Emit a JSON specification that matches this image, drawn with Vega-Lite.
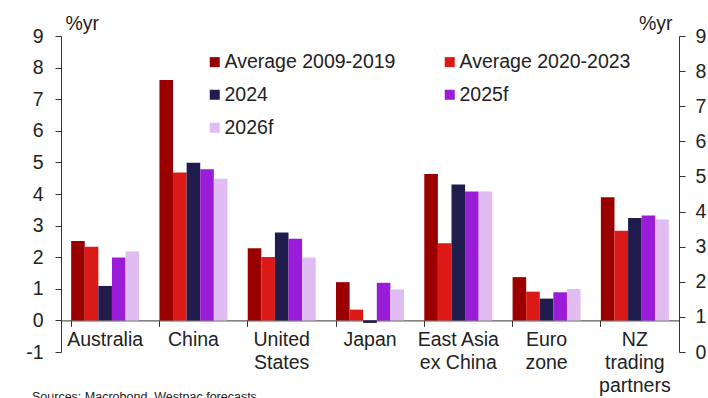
{
  "$schema": "https://vega.github.io/schema/vega-lite/v6.json",
  "width": 618,
  "height": 316,
  "autosize": {"type": "none"},
  "padding": {"left": 61, "top": 36, "right": 29, "bottom": 46},
  "background": "white",
  "config": {
    "font": "Liberation Sans",
    "view": {"stroke": null},
    "axis": {"labelFont": "Liberation Sans", "titleFont": "Liberation Sans", "labelColor": "#222222", "titleColor": "#222222", "domainColor": "#333333", "tickColor": "#333333", "grid": false, "labelFontSize": 19.5, "titleFontSize": 19.5, "titleFontWeight": "normal"},
    "legend": {"labelFont": "Liberation Sans", "labelColor": "#222222"}
  },
  "title": {
    "text": "Sources: Macrobond, Westpac forecasts",
    "orient": "bottom",
    "anchor": "start",
    "frame": "group",
    "fontSize": 12.5,
    "fontWeight": "normal",
    "color": "#222222",
    "dx": -29,
    "offset": -4
  },
  "data": {
    "values": [
      {"country": "Australia", "series": "Average 2009-2019", "value": 2.51},
      {"country": "Australia", "series": "Average 2020-2023", "value": 2.33},
      {"country": "Australia", "series": "2024", "value": 1.09},
      {"country": "Australia", "series": "2025f", "value": 1.99},
      {"country": "Australia", "series": "2026f", "value": 2.18},
      {"country": "China", "series": "Average 2009-2019", "value": 7.61},
      {"country": "China", "series": "Average 2020-2023", "value": 4.68},
      {"country": "China", "series": "2024", "value": 4.99},
      {"country": "China", "series": "2025f", "value": 4.78},
      {"country": "China", "series": "2026f", "value": 4.48},
      {"country": "United States", "series": "Average 2009-2019", "value": 2.28},
      {"country": "United States", "series": "Average 2020-2023", "value": 2.01},
      {"country": "United States", "series": "2024", "value": 2.78},
      {"country": "United States", "series": "2025f", "value": 2.58},
      {"country": "United States", "series": "2026f", "value": 1.99},
      {"country": "Japan", "series": "Average 2009-2019", "value": 1.21},
      {"country": "Japan", "series": "Average 2020-2023", "value": 0.34},
      {"country": "Japan", "series": "2024", "value": -0.08},
      {"country": "Japan", "series": "2025f", "value": 1.19},
      {"country": "Japan", "series": "2026f", "value": 0.98},
      {"country": "East Asia ex China", "series": "Average 2009-2019", "value": 4.63},
      {"country": "East Asia ex China", "series": "Average 2020-2023", "value": 2.44},
      {"country": "East Asia ex China", "series": "2024", "value": 4.3},
      {"country": "East Asia ex China", "series": "2025f", "value": 4.08},
      {"country": "East Asia ex China", "series": "2026f", "value": 4.08},
      {"country": "Euro zone", "series": "Average 2009-2019", "value": 1.37},
      {"country": "Euro zone", "series": "Average 2020-2023", "value": 0.91},
      {"country": "Euro zone", "series": "2024", "value": 0.69},
      {"country": "Euro zone", "series": "2025f", "value": 0.89},
      {"country": "Euro zone", "series": "2026f", "value": 0.99},
      {"country": "NZ trading partners", "series": "Average 2009-2019", "value": 3.9},
      {"country": "NZ trading partners", "series": "Average 2020-2023", "value": 2.84},
      {"country": "NZ trading partners", "series": "2024", "value": 3.24},
      {"country": "NZ trading partners", "series": "2025f", "value": 3.32},
      {"country": "NZ trading partners", "series": "2026f", "value": 3.19}
    ]
  },
  "encoding": {
    "x": {
      "field": "country",
      "type": "nominal",
      "sort": null,
      "scale": {"paddingInner": 0.23, "paddingOuter": 0.115},
      "axis": {
        "title": null,
        "labelAngle": 0,
        "bandPosition": 0,
        "offset": -31.6,
        "tickSize": 6,
        "labelPadding": 4,
        "labelLineHeight": 23,
        "labelBaseline": "top",
        "domainColor": "#333333",
        "labelExpr": "datum.value == 'United States' ? ['United', 'States'] : datum.value == 'East Asia ex China' ? ['East Asia', 'ex China'] : datum.value == 'Euro zone' ? ['Euro', 'zone'] : datum.value == 'NZ trading partners' ? ['NZ', 'trading', 'partners'] : datum.value"
      }
    }
  },
  "layer": [
    {
      "mark": {"type": "bar"},
      "encoding": {
        "xOffset": {"field": "series", "type": "nominal", "sort": ["Average 2009-2019", "Average 2020-2023", "2024", "2025f", "2026f"]},
        "y": {
          "field": "value",
          "type": "quantitative",
          "scale": {"domain": [-1, 9], "nice": false, "zero": false},
          "axis": {
            "orient": "left",
            "values": [-1, 0, 1, 2, 3, 4, 5, 6, 7, 8, 9],
            "labelExpr": "'' + datum.value",
            "tickSize": 6,
            "labelPadding": 12,
            "title": "%yr",
            "titleAngle": 0,
            "titleAlign": "left",
            "titleBaseline": "alphabetic",
            "titleX": 4,
            "titleY": -7
          }
        },
        "color": {
          "field": "series",
          "type": "nominal",
          "sort": ["Average 2009-2019", "Average 2020-2023", "2024", "2025f", "2026f"],
          "scale": {
            "domain": ["Average 2009-2019", "Average 2020-2023", "2024", "2025f", "2026f"],
            "range": ["#9A0000", "#DB1A18", "#201C4E", "#9A1CD8", "#E0BCF2"]
          },
          "legend": {
            "title": null,
            "orient": "none",
            "direction": "horizontal",
            "legendX": 144,
            "legendY": 16,
            "columns": 2,
            "symbolType": "square",
            "symbolSize": 100,
            "symbolStrokeWidth": 0,
            "labelFontSize": 19.5,
            "labelLimit": 400,
            "labelOffset": 0,
            "rowPadding": 12,
            "columnPadding": 44,
            "padding": 0
          }
        }
      }
    },
    {
      "mark": {"type": "point", "opacity": 0},
      "encoding": {
        "y": {
          "field": "value",
          "type": "quantitative",
          "scale": {"domain": [0, 9], "nice": false, "zero": false},
          "axis": {
            "orient": "right",
            "values": [0, 1, 2, 3, 4, 5, 6, 7, 8, 9],
            "tickSize": 6,
            "labelPadding": 10,
            "title": "%yr",
            "titleAngle": 0,
            "titleAlign": "right",
            "titleBaseline": "alphabetic",
            "titleX": -7,
            "titleY": -7
          }
        }
      }
    }
  ],
  "resolve": {"scale": {"y": "independent"}}
}
